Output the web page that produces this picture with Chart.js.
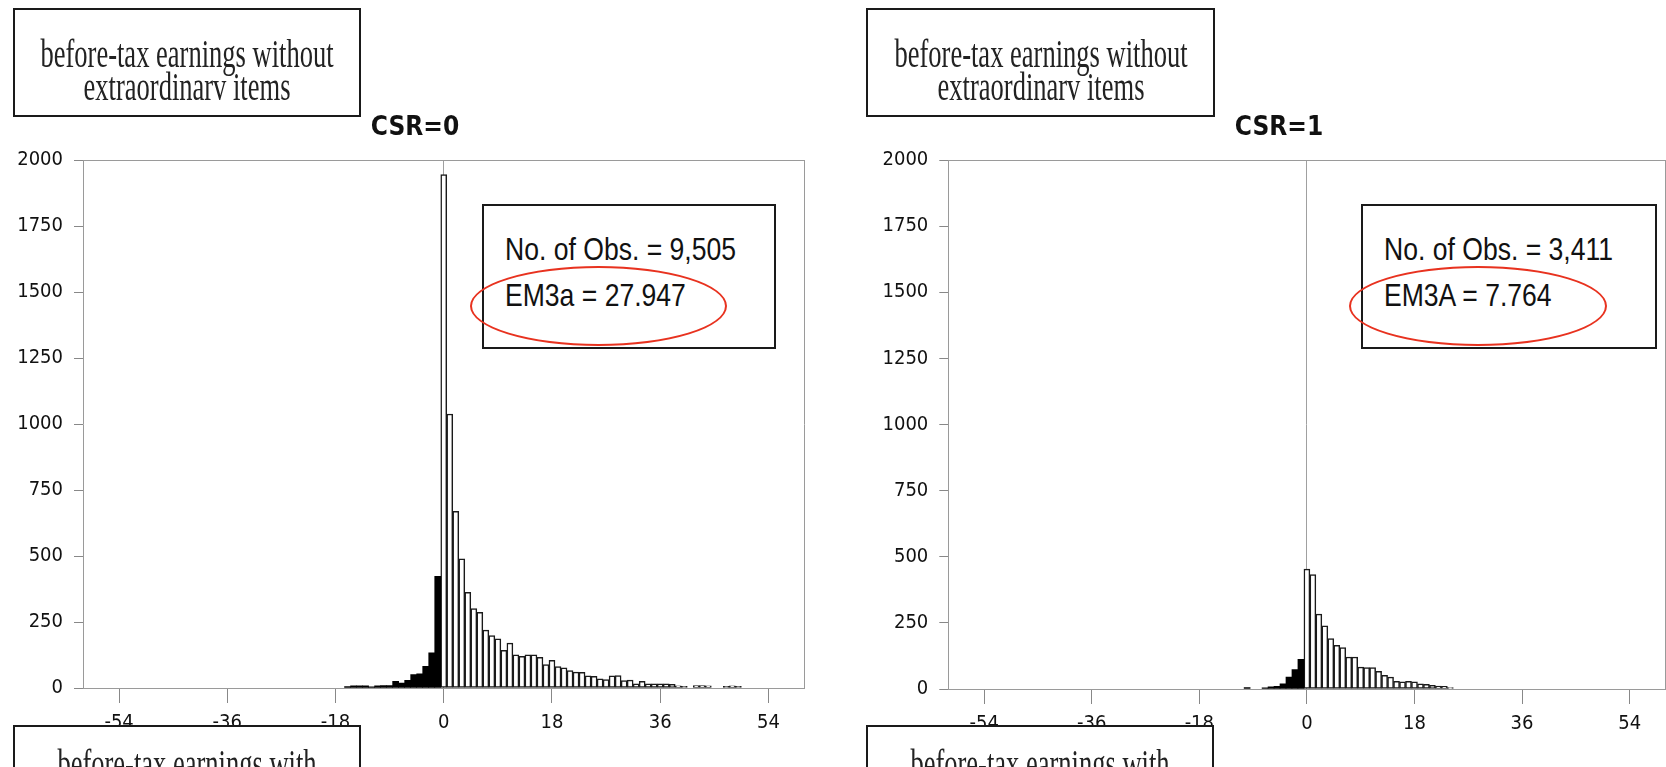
<!DOCTYPE html>
<html><head><meta charset="utf-8">
<script src="https://cdn.jsdelivr.net/npm/chart.js@4.4.1/dist/chart.umd.min.js"></script>
<style>
html,body{margin:0;padding:0;background:#fff;width:1666px;height:767px;overflow:hidden;position:relative}
canvas{position:absolute;top:0}
.box{position:absolute;border:2.5px solid #1a1a1a;background:#fff;box-sizing:border-box}
.serif{position:absolute;width:600px;font-family:'Liberation Serif','Times New Roman',serif;font-size:39px;line-height:33.3px;color:#222;text-align:center;white-space:nowrap;transform:scaleX(0.68);transform-origin:50% 0}
.stat{position:absolute;font-family:'Liberation Sans',Arial,sans-serif;font-size:32px;line-height:46.7px;color:#111;white-space:nowrap;transform:scaleX(0.83);transform-origin:0 0}
.ell{position:absolute;border:2.5px solid #e8321f;border-radius:50%;box-sizing:border-box}
</style></head><body>
<canvas id="c0" width="830" height="767" style="left:0;width:830px;height:767px"></canvas>
<canvas id="c1" width="838" height="767" style="left:860px;width:838px;height:767px"></canvas>

<div class="box" style="left:13px;top:8px;width:348px;height:109px"></div>
<div class="serif" style="left:-113px;top:36.9px">before-tax earnings without<br>extraordinarv items</div>
<div class="box" style="left:866px;top:8px;width:349px;height:109px"></div>
<div class="serif" style="left:740.5px;top:36.9px">before-tax earnings without<br>extraordinarv items</div>

<div class="box" style="left:482px;top:204px;width:294px;height:145px"></div>
<div class="stat" style="left:505px;top:225.5px">No. of Obs. = 9,505<br>EM3a = 27.947</div>
<div class="ell" style="left:470px;top:266px;width:257px;height:80px"></div>
<div class="box" style="left:1361px;top:204px;width:296px;height:145px"></div>
<div class="stat" style="left:1384px;top:225.5px">No. of Obs. = 3,411<br>EM3A = 7.764</div>
<div class="ell" style="left:1349px;top:266px;width:258px;height:80px"></div>

<div class="box" style="left:13px;top:725px;width:348px;height:60px"></div>
<div class="serif" style="left:-113px;top:746.8px">before-tax earnings with</div>
<div class="box" style="left:866px;top:725px;width:348px;height:60px"></div>
<div class="serif" style="left:740px;top:746.8px">before-tax earnings with</div>

<script>
// ---- data ----
const yTickValues = [0, 250, 500, 750, 1000, 1250, 1500, 1750, 2000];
const xTickValues = [-54, -36, -18, 0, 18, 36, 54];

const leftTitle = 'CSR=0';
const leftNegBins = [-16, -15, -14, -13, -12, -11, -10, -9, -8, -7, -6, -5, -4, -3, -2, -1];
const leftNegCounts = [5, 8, 8, 8, 4, 8, 9, 9, 25, 19, 29, 51, 54, 82, 133, 423];
const leftPosBins = [0, 1, 2, 3, 4, 5, 6, 7, 8, 9, 10, 11, 12, 13, 14, 15, 16, 17, 18, 19, 20,
  21, 22, 23, 24, 25, 26, 27, 28, 29, 30, 31, 32, 33, 34, 35, 36, 37, 38, 39, 40, 42, 43, 44, 47, 48, 49];
const leftPosCounts = [1945, 1038, 669, 489, 362, 301, 287, 219, 199, 186, 143, 170, 126, 120, 126, 126, 116, 89, 105, 81, 76,
  66, 60, 59, 46, 44, 35, 32, 46, 47, 28, 30, 16, 25, 16, 16, 16, 16, 14, 8, 6, 9, 9, 8, 6, 8, 6];

const rightTitle = 'CSR=1';
const rightNegBins = [-10, -7, -6, -5, -4, -3, -2, -1];
const rightNegCounts = [5, 4, 8, 10, 20, 45, 73, 112];
const rightPosBins = [0, 1, 2, 3, 4, 5, 6, 7, 8, 9, 10, 11, 12, 13, 14, 15, 16, 17, 18, 19, 20, 21, 22, 23, 24];
const rightPosCounts = [453, 433, 283, 239, 191, 165, 157, 121, 121, 83, 81, 81, 67, 52, 45, 29, 27, 29, 27, 20, 18, 14, 11, 10, 5];

// ---- chart ----
const condensed = "'DejaVu Sans Condensed', 'Liberation Sans Narrow', 'Liberation Sans', Arial, sans-serif";
const tickFont = {family: condensed, size: 20};
const frameColor = '#9a9a9a';

const topFrame = {
  id: 'topFrame',
  beforeDatasetsDraw(chart) {
    const {ctx, chartArea: a} = chart;
    ctx.save();
    ctx.strokeStyle = frameColor;
    ctx.lineWidth = 1;
    ctx.beginPath();
    ctx.moveTo(a.left, a.top + 0.5);
    ctx.lineTo(a.right, a.top + 0.5);
    ctx.stroke();
    ctx.restore();
  }
};

function makeChart(id, title, negBins, negCounts, posBins, posCounts, geo) {
  return new Chart(document.getElementById(id), {
    type: 'bar',
    data: {
      datasets: [
        {
          data: negBins.map((x, i) => ({x: x, y: negCounts[i]})),
          backgroundColor: '#000', borderColor: '#000', borderWidth: 0,
          barPercentage: 1, categoryPercentage: 1, grouped: false
        },
        {
          data: posBins.map((x, i) => ({x: x, y: posCounts[i]})),
          backgroundColor: '#fff', borderColor: '#1a1a1a', borderWidth: 1.5, borderSkipped: false,
          barPercentage: 1, categoryPercentage: 1, grouped: false
        }
      ]
    },
    options: {
      responsive: false, animation: false,
      layout: {padding: 0},
      plugins: {
        legend: {display: false}, tooltip: {enabled: false},
        title: {
          display: true, text: title, color: '#111',
          font: {family: condensed, size: 26, weight: 'bold', lineHeight: 1.2},
          padding: {top: 112.4, bottom: 16.4}
        }
      },
      scales: {
        x: {
          type: 'linear', min: -60, max: 60, offset: false,
          afterBuildTicks: s => { s.ticks = xTickValues.map(v => ({value: v})); },
          afterFit: s => { s.height = geo.xAxisHeight; },
          ticks: {font: tickFont, color: '#111', padding: 8, maxRotation: 0, autoSkip: false,
                  callback: v => String(v)},
          grid: {
            offset: false, drawOnChartArea: true, lineWidth: 1, tickLength: 15, tickColor: '#888',
            color: c => (c.tick && c.tick.value === 0) ? '#a0a0a0' : 'rgba(0,0,0,0)'
          },
          border: {color: frameColor, width: 1}
        },
        y: {
          type: 'linear', min: 0, max: 2000,
          afterBuildTicks: s => { s.ticks = yTickValues.map(v => ({value: v})); },
          afterFit: s => { s.width = geo.yAxisWidth; },
          ticks: {font: tickFont, color: '#111', padding: 11, callback: v => String(v)},
          grid: {drawOnChartArea: false, tickLength: 9, color: '#888'},
          border: {color: frameColor, width: 1}
        },
        y2: {
          type: 'linear', position: 'right', display: true,
          afterFit: s => { s.width = geo.rightPad; },
          ticks: {display: false},
          grid: {display: false, drawTicks: false},
          border: {display: true, color: frameColor, width: 1}
        }
      }
    },
    plugins: [topFrame]
  });
}

makeChart('c0', leftTitle, leftNegBins, leftNegCounts, leftPosBins, leftPosCounts,
  {yAxisWidth: 83, rightPad: 25.5, xAxisHeight: 79});
makeChart('c1', rightTitle, rightNegBins, rightNegCounts, rightPosBins, rightPosCounts,
  {yAxisWidth: 88.3, rightPad: 32.5, xAxisHeight: 78});
</script>
</body></html>
